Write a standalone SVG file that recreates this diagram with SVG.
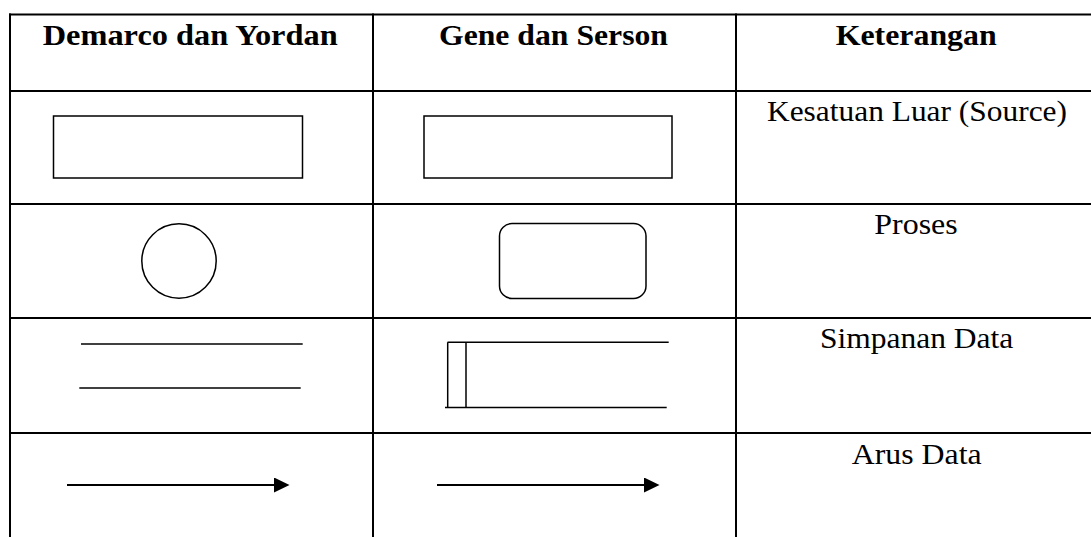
<svg xmlns="http://www.w3.org/2000/svg" width="1091" height="537" viewBox="0 0 1091 537">
  <style>
    .grid { stroke: #000; stroke-width: 2; fill: none; }
    .shape { stroke: #000; stroke-width: 1.5; fill: #fff; }
    .ln { stroke: #000; stroke-width: 1.5; fill: none; }
    .flow { stroke: #000; stroke-width: 2.2; fill: none; }
    .hd { font-family: "Liberation Serif", serif; font-weight: bold; font-size: 29px; fill: #000; }
    .tx { font-family: "Liberation Serif", serif; font-size: 29px; fill: #000; }
  </style>
  <defs>
    <marker id="arrow" markerUnits="userSpaceOnUse" markerWidth="16" markerHeight="16" refX="0" refY="7.5" orient="auto">
      <path d="M0,0 L15.5,7.5 L0,15 Z" fill="#000"/>
    </marker>
  </defs>
  <rect width="1091" height="537" fill="#fff"/>

  <g id="table">
    <line class="grid" x1="9" y1="14.5" x2="1091" y2="14.5"/>
    <line class="grid" x1="9" y1="91" x2="1091" y2="91"/>
    <line class="grid" x1="9" y1="204" x2="1091" y2="204"/>
    <line class="grid" x1="9" y1="318" x2="1091" y2="318"/>
    <line class="grid" x1="9" y1="433" x2="1091" y2="433"/>
    <line class="grid" x1="10" y1="13.5" x2="10" y2="537"/>
    <line class="grid" x1="373" y1="13.5" x2="373" y2="537"/>
    <line class="grid" x1="736" y1="13.5" x2="736" y2="537"/>
  </g>

  <g id="headers">
    <text class="hd" x="42.7" y="45" textLength="295" lengthAdjust="spacingAndGlyphs">Demarco dan Yordan</text>
    <text class="hd" x="439" y="45" textLength="229" lengthAdjust="spacingAndGlyphs">Gene dan Serson</text>
    <text class="hd" x="835.7" y="45" textLength="161" lengthAdjust="spacingAndGlyphs">Keterangan</text>
  </g>

  <g id="labels">
    <text class="tx" x="767" y="121" textLength="300" lengthAdjust="spacingAndGlyphs">Kesatuan Luar (Source)</text>
    <text class="tx" x="874.3" y="234" textLength="83.4" lengthAdjust="spacingAndGlyphs">Proses</text>
    <text class="tx" x="820" y="348" textLength="193.3" lengthAdjust="spacingAndGlyphs">Simpanan Data</text>
    <text class="tx" x="851.7" y="464" textLength="130" lengthAdjust="spacingAndGlyphs">Arus Data</text>
  </g>

  <g id="dy-source">
    <rect class="shape" x="53.5" y="116" width="249" height="62"/>
  </g>
  <g id="gs-source">
    <rect class="shape" x="424" y="116" width="248" height="62"/>
  </g>

  <g id="dy-process">
    <circle class="shape" cx="179" cy="261" r="37.2"/>
  </g>
  <g id="gs-process">
    <rect class="shape" x="499.5" y="223.5" width="146.5" height="75" rx="12.5" ry="12.5"/>
  </g>

  <g id="dy-store">
    <line class="ln" x1="81" y1="344" x2="302.7" y2="344"/>
    <line class="ln" x1="79.3" y1="388" x2="300.7" y2="388"/>
  </g>
  <g id="gs-store">
    <line class="ln" x1="447.5" y1="342.3" x2="668.7" y2="342.3"/>
    <line class="ln" x1="445" y1="407.5" x2="666.7" y2="407.5"/>
    <line class="ln" x1="447.7" y1="342.3" x2="447.7" y2="407.5"/>
    <line class="ln" x1="466" y1="342.3" x2="466" y2="407.5"/>
  </g>

  <g id="connectors">
    <line class="flow" x1="67" y1="485" x2="274" y2="485" marker-end="url(#arrow)"/>
    <line class="flow" x1="437" y1="485" x2="644" y2="485" marker-end="url(#arrow)"/>
  </g>
</svg>
